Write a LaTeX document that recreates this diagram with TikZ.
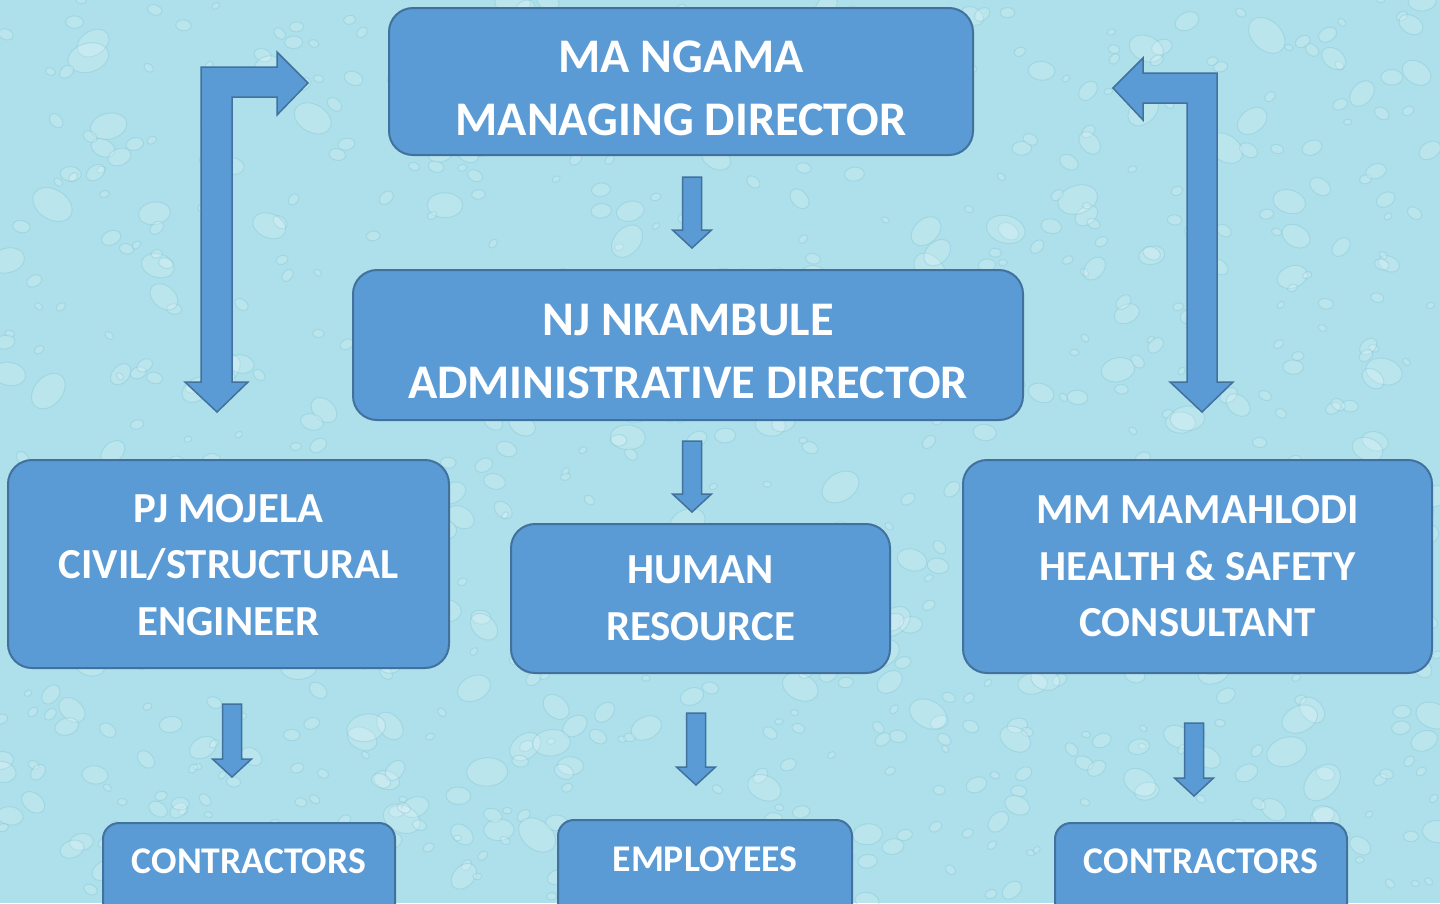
\documentclass[tikz,border=0pt]{standalone}
\usepackage{fontspec}
\setmainfont{Carlito}
\usepackage{tikz}
\usetikzlibrary{calc}
\usepackage{xcolor}

\definecolor{water}{HTML}{ADE0EA}
\definecolor{dropedge}{HTML}{7CC2D2}
\definecolor{boxfill}{HTML}{5B9BD5}
\definecolor{boxline}{HTML}{41719C}

\tikzset{
  orgbox/.style={draw=boxline, fill=boxfill, line width=2pt, rounded corners=24pt, inner sep=0pt},
  lowbox/.style={orgbox, rounded corners=16pt, anchor=north, minimum height=140},
  bigtext/.style={text=white, align=center, inner sep=0pt, font=\fontsize{48.3}{63}\selectfont\bfseries},
  midtext/.style={text=white, align=center, inner sep=0pt, font=\fontsize{42.8}{56.5}\selectfont\bfseries},
  lowtext/.style={text=white, align=center, inner sep=0pt, font=\fontsize{37.7}{44}\selectfont\bfseries},
  blockarrow/.style={draw=boxline, fill=boxfill, line width=1.5pt, line join=miter},
  drop/.style={fill=white, fill opacity=0.18, draw=dropedge, draw opacity=0.35, line width=1pt},
}

% straight block arrow pointing down, shaft starts level with #1, tip at #2
\newcommand{\downblock}[2]{%
  \path (#2 |- #1) coordinate (dbtop);
  \draw[blockarrow] ($(dbtop)+(-9.5,0)$) -- ($(#2)+(-9.5,-18)$) -- ($(#2)+(-19.5,-18)$) -- (#2)
    -- ($(#2)+(19.5,-18)$) -- ($(#2)+(9.5,-18)$) -- ($(dbtop)+(9.5,0)$) -- cycle;}

\begin{document}
\begin{tikzpicture}[x=1pt,y=-1pt]
\useasboundingbox (0,0) rectangle (1440,903);
\fill[water] (0,0) rectangle (1440,903);
% water drops on the background
\pgfmathsetseed{4711}
\begin{scope}
\clip (0,0) rectangle (1440,903);
\foreach \i in {1,...,900}{
  \pgfmathsetmacro{\dx}{1440*rnd}
  \pgfmathsetmacro{\dy}{903*rnd}
  \pgfmathsetmacro{\dr}{4+20*rnd*rnd}
  \pgfmathsetmacro{\da}{-50+100*rnd}
  \path[drop, rotate around={\da:(\dx,\dy)}] (\dx,\dy) ellipse ({\dr} and {0.7*\dr});
}
\end{scope}
% Drawing boxes
% Line 1: managing director
\node[orgbox, minimum width=584, minimum height=147] (md) at (681,81.5) {};
\node[bigtext] (mdtext) at ($(md.center)+(0,7)$) {MA NGAMA\\MANAGING DIRECTOR};
% Line 2: administrative director
\node[orgbox, minimum width=670, minimum height=150] (ad) at (688,345) {};
\node[bigtext] (adtext) at ($(ad.center)+(0,6)$) {NJ NKAMBULE\\ADMINISTRATIVE DIRECTOR};
% Line 3: engineer, human resource, consultant
\node[orgbox, minimum width=441, minimum height=208] (pj) at (228.5,564) {};
\node[midtext] (pjtext) at ($(pj.center)+(0,1)$) {PJ MOJELA\\CIVIL/STRUCTURAL\\ENGINEER};
\node[orgbox, minimum width=379, minimum height=149] (hr) at (700.5,598.5) {};
\node[midtext] (hrtext) at (hr.center) {HUMAN\\RESOURCE};
\node[orgbox, minimum width=469, minimum height=213] (mm) at (1197.5,566.5) {};
\node[midtext] (mmtext) at (mm.center) {MM MAMAHLODI\\HEALTH \& SAFETY\\CONSULTANT};
% Line 4: bottom row, running off the page
\node[lowbox, minimum width=292] (conl) at (249,822) {};
\node[lowtext] (conltext) at (249,861) {CONTRACTORS};
\node[lowbox, minimum width=294] (emp) at (705,819) {};
\node[lowtext] (emptext) at (705,859) {EMPLOYEES};
\node[lowbox, minimum width=292] (conr) at (1201,822) {};
\node[lowtext] (conrtext) at (1201,861) {CONTRACTORS};
% Done with boxes
% Drawing arrows
\coordinate (a1top) at ($(md.south)+(0,21)$);
\coordinate (a1tip) at ($(ad.north)+(4,-21)$);
\downblock{a1top}{a1tip}
\coordinate (a2top) at ($(ad.south)+(0,20)$);
\coordinate (a2tip) at ($(hr.north)+(-8.5,-11)$);
\downblock{a2top}{a2tip}
\coordinate (a3top) at ($(pj.south)+(0,35)$);
\coordinate (a3tip) at ($(conl.north)+(-17,-45)$);
\downblock{a3top}{a3tip}
\coordinate (a4top) at ($(hr.south)+(0,39)$);
\coordinate (a4tip) at ($(emp.north)+(-9,-34)$);
\downblock{a4top}{a4tip}
\coordinate (a5top) at ($(mm.south)+(0,49)$);
\coordinate (a5tip) at ($(conr.north)+(-7,-26)$);
\downblock{a5top}{a5tip}
% bent arrows between the directors and the two side boxes
\draw[blockarrow] (201,67) -- (277,67) -- (277,52) -- (308,83) -- (277,115) -- (277,97)
  -- (232,97) -- (232,382) -- (248,382) -- (217,412) -- (185,382) -- (201,382) -- cycle;
\draw[blockarrow] (1113,88) -- (1143,58) -- (1143,73) -- (1217,73) -- (1217,382) -- (1233,382)
  -- (1202,412) -- (1170,382) -- (1187,382) -- (1187,103) -- (1143,103) -- (1143,120) -- cycle;
% Done with arrows
\end{tikzpicture}
\end{document}
